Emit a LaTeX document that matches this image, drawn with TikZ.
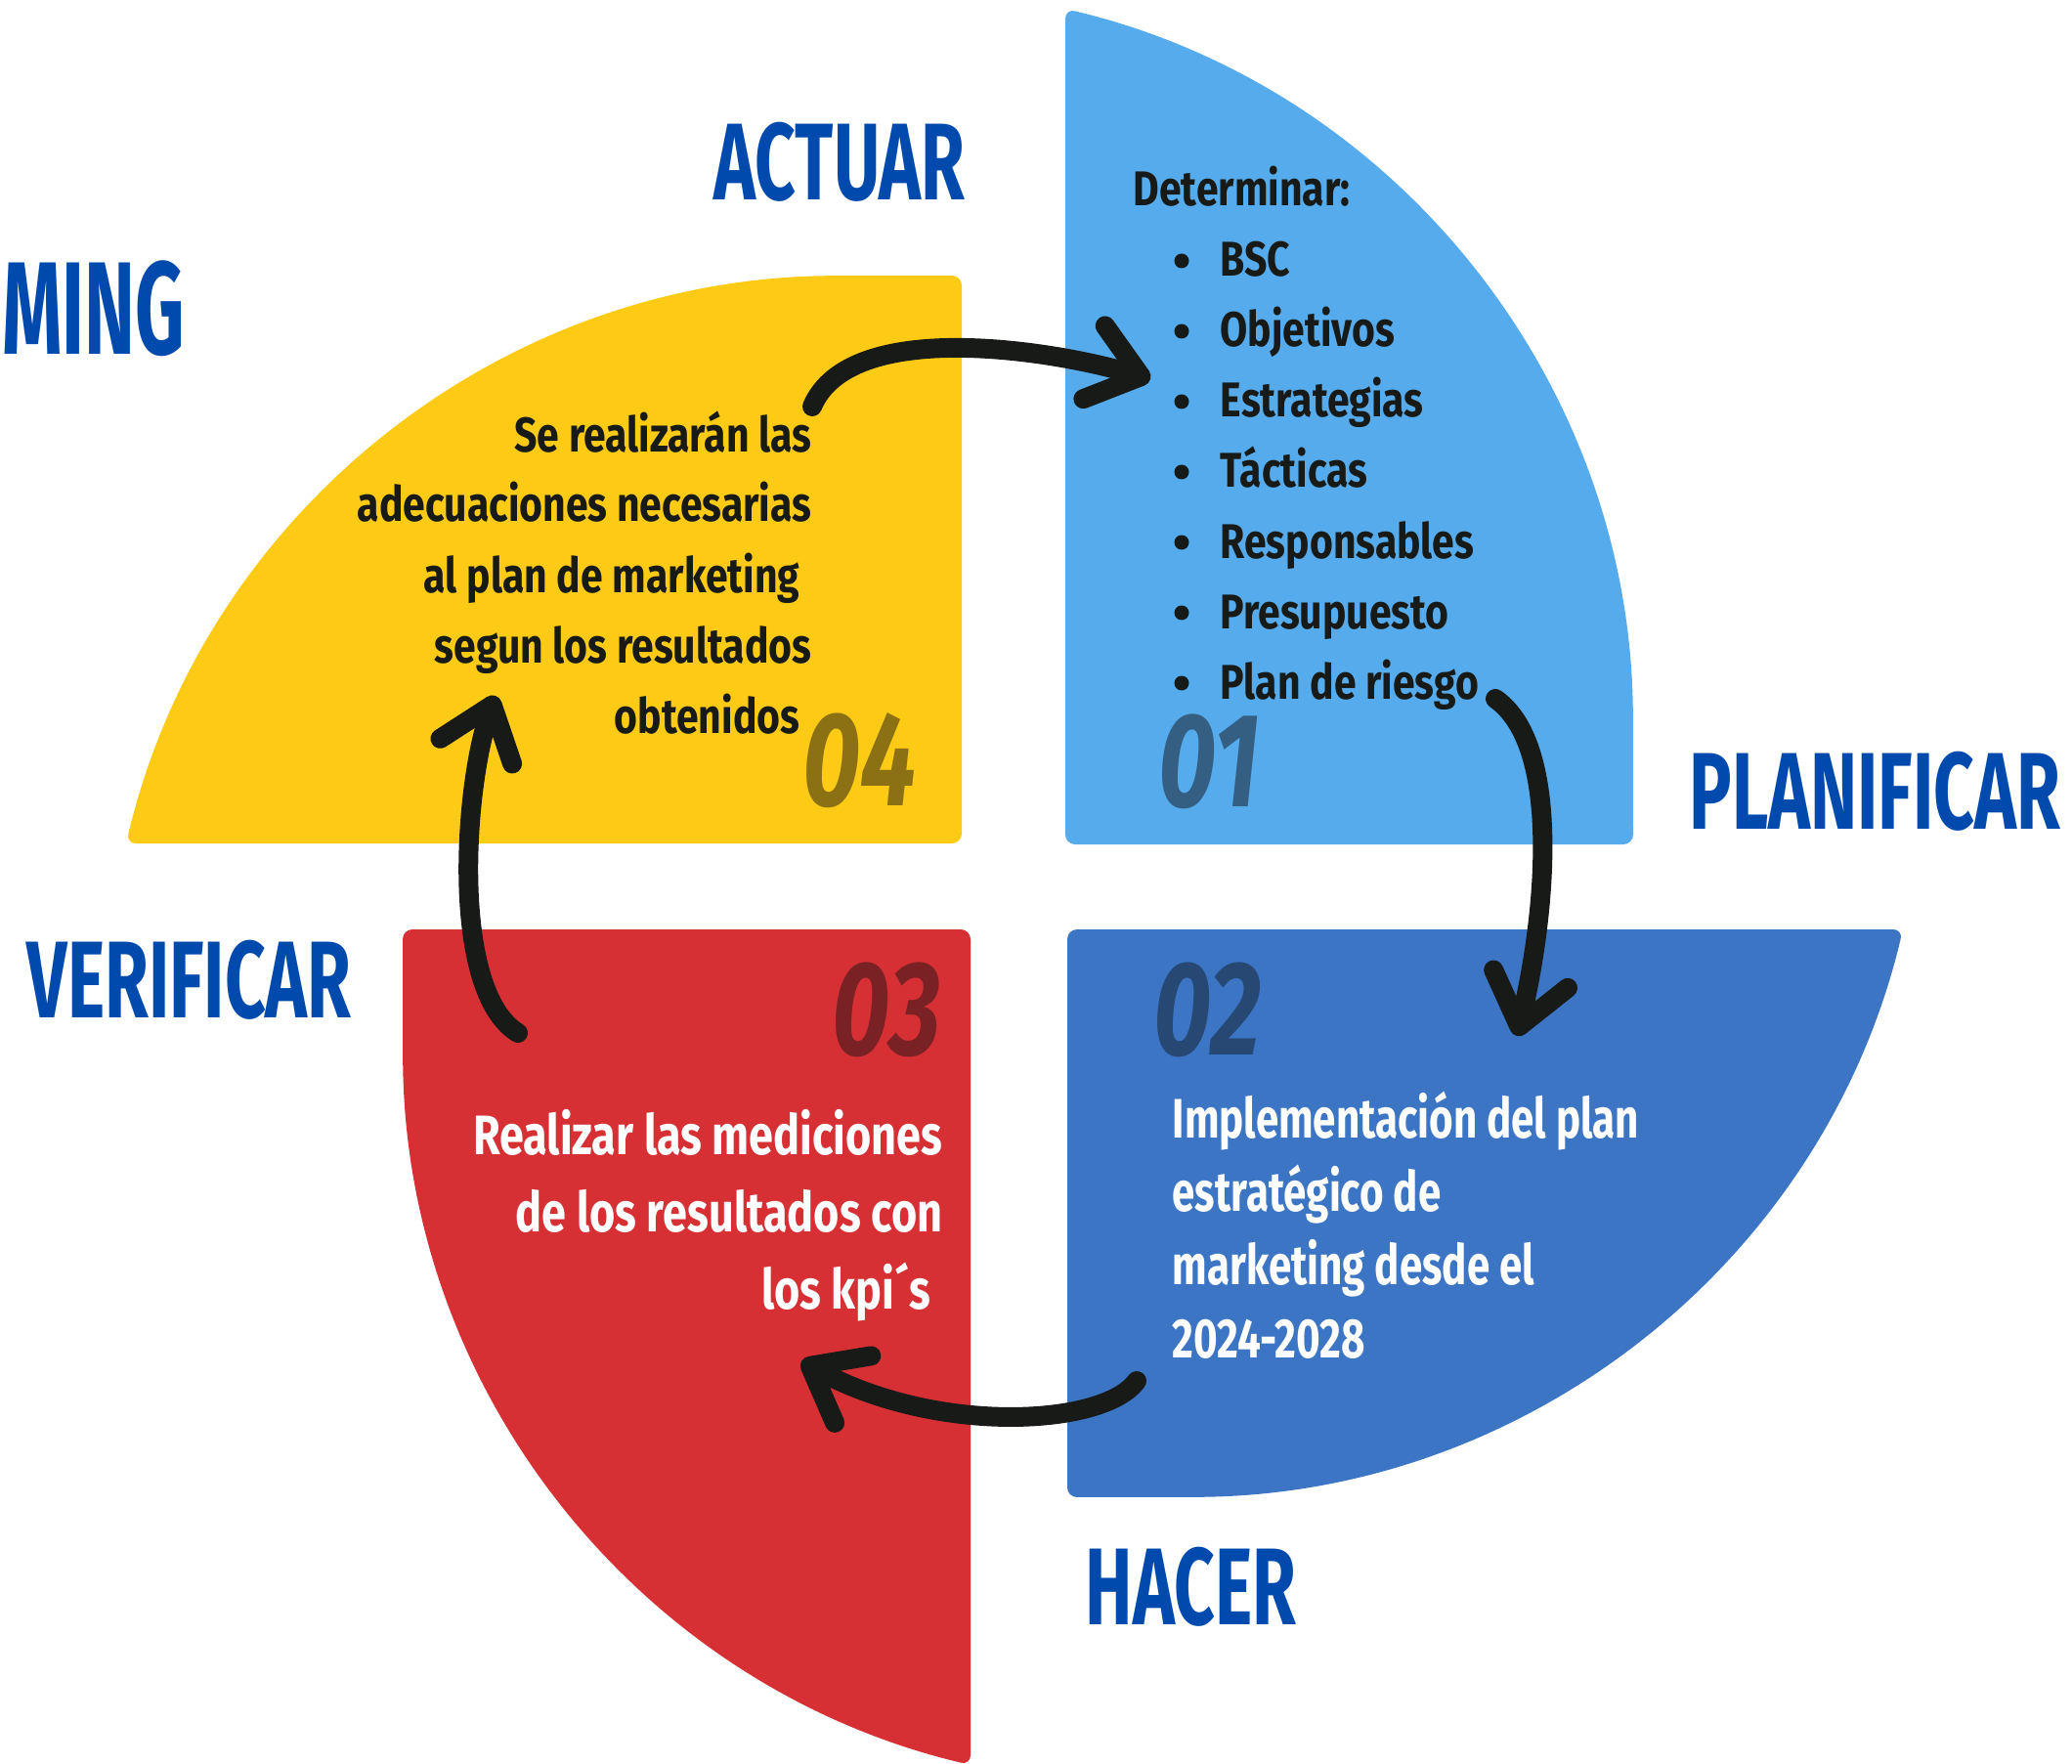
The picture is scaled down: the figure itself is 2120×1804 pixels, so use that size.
\documentclass[tikz,border=0pt]{standalone}
\usepackage{fontspec}
\usepackage{xcolor}
\usetikzlibrary{arrows.meta,positioning}

\newfontfamily\headfont[FakeStretch=0.65]{Fira Sans}
\newfontfamily\mingfont[FakeStretch=0.58]{Fira Sans}
\newfontfamily\bodyfont[FakeStretch=0.82]{Fira Sans}
\newfontfamily\redfont[FakeStretch=0.79]{Fira Sans}
\newfontfamily\planfont[FakeStretch=0.74]{Fira Sans}
\newfontfamily\numfont[FakeStretch=0.75]{Fira Sans}

\definecolor{qyellow}{RGB}{253,202,22}
\definecolor{qsky}{RGB}{85,171,236}
\definecolor{qblue}{RGB}{59,117,196}
\definecolor{qred}{RGB}{214,48,53}
\definecolor{phaseblue}{RGB}{0,74,173}
\definecolor{inkblack}{RGB}{24,26,23}
\definecolor{numyellow}{RGB}{140,112,20}
\definecolor{numsky}{RGB}{52,94,130}
\definecolor{numred}{RGB}{122,33,36}
\definecolor{numblue}{RGB}{38,72,115}

\tikzset{
  phase/.style={font=\headfont\bfseries\fontsize{31.8}{32}\selectfont, text=phaseblue, inner sep=0pt},
  quartnum/.style={font=\numfont\bfseries\itshape\fontsize{39}{40}\selectfont, inner sep=0pt, anchor=base west},
  darktxt/.style={font=\bodyfont\bfseries\fontsize{14.2}{16}\selectfont, text=inkblack, inner sep=0pt},
  whitetxt/.style={font=\bfseries\fontsize{16.2}{18}\selectfont, text=white, inner sep=0pt},
  dot/.style={circle, fill=inkblack, inner sep=0pt, minimum size=1.5mm},
  cycle arrow/.style={line width=2mm, line cap=round, draw=inkblack,
    -{Straight Barb[length=5mm, width=7.8mm, round]}},
}

\begin{document}
\begin{tikzpicture}[x=0.1mm, y=0.1mm]
  \useasboundingbox (0,0) rectangle (2120,1804);

  % quadrant 01, top right
  \fill[qsky, rounded corners=1mm] (1090,940) -- (1090,1795)
    arc[start angle=76.6, end angle=0, radius=756] -- (1671,940) -- cycle;
  % quadrant 02, bottom right
  \fill[qblue, rounded corners=1mm] (1092,853) -- (1947,853)
    arc[start angle=-13.4, end angle=-90, radius=756] -- (1092,272) -- cycle;
  % quadrant 03, bottom left
  \fill[qred, rounded corners=1mm] (993,853) -- (993,-2)
    arc[start angle=-103.4, end angle=-180, radius=756] -- (412,853) -- cycle;
  % quadrant 04, top left
  \fill[qyellow, rounded corners=1mm] (984,941) -- (129,941)
    arc[start angle=166.6, end angle=90, radius=756] -- (984,1522) -- cycle;

  % phase titles
  \node[phase, anchor=base west] (actuar) at (730,1599) {ACTUAR};
  \node[phase, anchor=base east, font=\mingfont\bfseries\fontsize{38.4}{40}\selectfont] (ming) at (190,1441) {MING};
  \node[phase, anchor=base west] (planificar) at (1728,956) {PLANIFICAR};
  \node[phase, anchor=base west] (verificar) at (27,763) {VERIFICAR};
  \node[phase, anchor=base west] (hacer) at (1110,142) {HACER};

  % quadrant numbers
  \node[quartnum, text=numyellow] (n04) at (821,980) {04};
  \node[quartnum, text=numsky] (n01) at (1185,979) {01};
  \node[quartnum, text=numred] (n03) at (851,725) {03};
  \node[quartnum, text=numblue] (n02) at (1180,725) {02};

  % 01: list
  \node[darktxt, anchor=base west] (det) at (1159,1593) {Determinar:};
  \foreach \entry [count=\i] in {BSC, Objetivos, Estrategias, Tácticas, Responsables, Presupuesto, Plan de riesgo} {
    \node[darktxt, anchor=base west] (item\i) at (1248,{1593-72*\i}) {\entry};
    \node[dot] (dot\i) at (1209,{1609-72*\i}) {};
  }

  % 04: adjustments
  \foreach \xr/\line [count=\i] in {831/Se realizarán las, 831/adecuaciones necesarias,
      819/al plan de marketing, 831/segun los resultados, 819/obtenidos}
    \node[darktxt, anchor=base east] (act\i) at (\xr,{1414-72*\i}) {\line};

  % 03: measuring
  \foreach \xr/\line [count=\i] in {965/Realizar las mediciones, 965/de los resultados con, 953/los kpi´s}
    \node[whitetxt, anchor=base east] (ver\i) at (\xr,{702-79*\i}) {\redfont\line};

  % 02: implementation
  \foreach \line [count=\i] in {Implementación del plan, estratégico de, marketing desde el, 2024-2028}
    \node[whitetxt, anchor=base west] (hac\i) at (1199,{715-75*\i}) {\planfont\line};

  % cycle arrows
  \coordinate (a1s) at (831,1388);  \coordinate (a1e) at (1177,1416);
  \coordinate (a2s) at (1530,1089); \coordinate (a2e) at (1552,744);
  \coordinate (a3s) at (1163,391);  \coordinate (a3e) at (820,411);
  \coordinate (a4s) at (530,747);   \coordinate (a4e) at (507,1092);
  \draw[cycle arrow] (a1s) .. controls (870,1480) and (1080,1445) .. (a1e);
  \draw[cycle arrow] (a2s) .. controls (1600,1040) and (1580,860) .. (a2e);
  \draw[cycle arrow] (a3s) .. controls (1130,345) and (960,335) .. (a3e);
  \draw[cycle arrow] (a4s) .. controls (460,790) and (475,1000) .. (a4e);
\end{tikzpicture}
\end{document}
